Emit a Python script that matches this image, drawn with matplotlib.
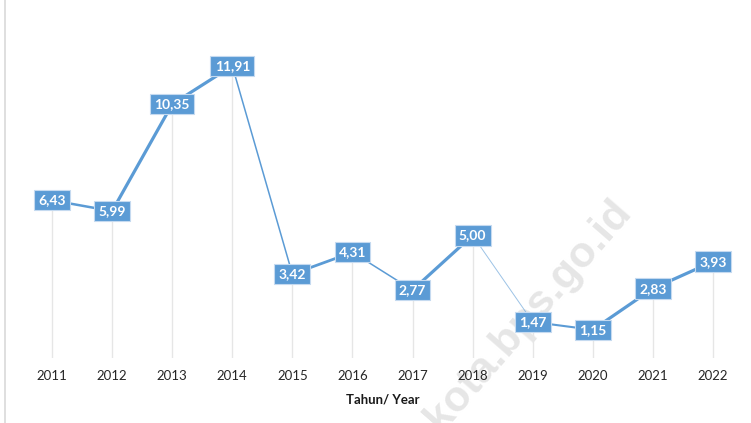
import matplotlib
matplotlib.use('Agg')
import matplotlib.pyplot as plt
from matplotlib.collections import LineCollection
from matplotlib.lines import Line2D
import numpy as np

plt.rcParams['font.family'] = ['Lato', 'DejaVu Sans']

years = [2011, 2012, 2013, 2014, 2015, 2016, 2017, 2018, 2019, 2020, 2021, 2022]
values = [6.43, 5.99, 10.35, 11.91, 3.42, 4.31, 2.77, 5.00, 1.47, 1.15, 2.83, 3.93]
labels = ['6,43', '5,99', '10,35', '11,91', '3,42', '4,31', '2,77', '5,00', '1,47', '1,15', '2,83', '3,93']

# the line in the picture is drawn with uneven thickness per segment
seg_widths = [1.8, 2.3, 2.3, 1.1, 2.0, 1.1, 2.3, 0.7, 1.5, 2.3, 2.3]
seg_alpha = [1, 1, 1, 1, 1, 1, 1, 0.6, 1, 1, 1]

blue = '#5B9BD5'

fig = plt.figure(figsize=(7.51, 4.23), dpi=100)
ax = fig.add_axes([0.0293, 0.1537, 0.96, 0.80])
ax.patch.set_visible(False)

x = np.arange(len(years))

# drop lines
ax.vlines(x, 0, values, color='#e6e6e6', linewidth=1, zorder=1)

pts = np.column_stack([x, values])
segs = [[pts[i], pts[i + 1]] for i in range(len(pts) - 1)]
cols = [(0.357, 0.608, 0.835, a) for a in seg_alpha]
lc = LineCollection(segs, linewidths=seg_widths, colors=cols, capstyle='round', zorder=2)
ax.add_collection(lc)

for xi, v, lab in zip(x, values, labels):
    ax.text(xi, v, lab, ha='center', va='center', color='white', fontsize=10, fontweight='bold',
            bbox=dict(boxstyle='square,pad=0.3', fc=blue, ec='#c5daf0', lw=0.8), zorder=4)

ax.set_xlim(-0.5, len(years) - 0.5)
ax.set_ylim(0, 13.8)
ax.set_xticks(x)
ax.set_xticklabels([str(y) for y in years], fontsize=9.5, color='#262626')
ax.tick_params(axis='x', length=0, pad=9)
ax.set_yticks([])
for s in ax.spines.values():
    s.set_visible(False)
ax.set_xlabel('Tahun/ Year', fontsize=9.5, fontweight='bold', color='#1a1a1a', labelpad=8)

# left border of the frame
fig.add_artist(Line2D([0.0067, 0.0067], [0, 1], color='#d9d9d9', linewidth=1.2))

# watermark, kept behind the chart
fig.text(0.703, 0.255, 'kota.bps.go.id', rotation=49, ha='center', va='center',
         fontsize=31, fontweight='bold', color='#d6d6d6', alpha=0.6,
         family=['Liberation Sans', 'DejaVu Sans'], zorder=-1)

fig.savefig('out.png', dpi=100)
